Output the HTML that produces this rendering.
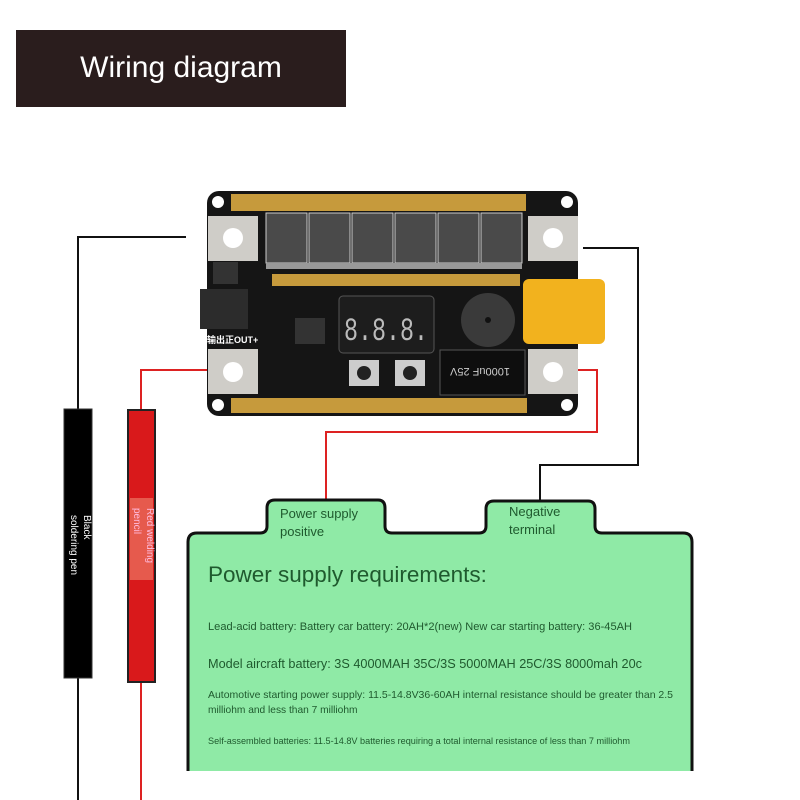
<!DOCTYPE html>
<html><head><meta charset="utf-8"><style>
html,body{margin:0;padding:0;background:#fff;}
svg{display:block;font-family:"Liberation Sans","Noto Sans CJK SC",sans-serif;}
</style></head><body>
<svg width="800" height="800" viewBox="0 0 800 800" xmlns="http://www.w3.org/2000/svg">
<rect width="800" height="800" fill="#fff"/>
<rect x="16" y="30" width="330" height="77" fill="#2a1d1d"/>
<text x="181" y="77" fill="#fff" font-size="30" text-anchor="middle">Wiring diagram</text>

<polyline points="186,237 78,237 78,800" fill="none" stroke="#111" stroke-width="2"/>
<polyline points="231,370 141,370 141,800" fill="none" stroke="#d22" stroke-width="2"/>
<polyline points="583,248 638,248 638,465 540,465 540,502" fill="none" stroke="#111" stroke-width="2"/>
<polyline points="563,370 597,370 597,432 326,432 326,500" fill="none" stroke="#d22" stroke-width="2"/>

<rect x="64" y="409" width="28" height="269" fill="#000" stroke="#333" stroke-width="1"/>
<text transform="translate(84,515) rotate(90)" fill="#fff" font-size="10">Black</text>
<text transform="translate(71,515) rotate(90)" fill="#fff" font-size="10">soldering pen</text>
<rect x="128" y="410" width="27" height="272" fill="#d9191b" stroke="#222" stroke-width="2"/>
<rect x="130" y="498" width="23" height="82" fill="#e86a5a" opacity="0.8"/>
<text transform="translate(147,508) rotate(90)" fill="#fbd" font-size="10">Red welding</text>
<text transform="translate(134,508) rotate(90)" fill="#fbd" font-size="10">pencil</text>

<rect x="207" y="191" width="371" height="225" rx="12" fill="#151515"/>
<circle cx="218" cy="202" r="6" fill="#fff"/><circle cx="567" cy="202" r="6" fill="#fff"/>
<circle cx="218" cy="405" r="6" fill="#fff"/><circle cx="567" cy="405" r="6" fill="#fff"/>
<rect x="231" y="194" width="295" height="17" fill="#c69a3c"/>
<rect x="231" y="398" width="296" height="15" fill="#c69a3c"/>
<rect x="272" y="274" width="248" height="12" fill="#c69a3c"/>
<rect x="208" y="216" width="50" height="45" fill="#cfcdc8"/><circle cx="233" cy="238" r="10" fill="#fff"/>
<rect x="528" y="216" width="50" height="45" fill="#cfcdc8"/><circle cx="553" cy="238" r="10" fill="#fff"/>
<rect x="208" y="349" width="50" height="45" fill="#cfcdc8"/><circle cx="233" cy="372" r="10" fill="#fff"/>
<rect x="528" y="349" width="50" height="45" fill="#cfcdc8"/><circle cx="553" cy="372" r="10" fill="#fff"/>
<g fill="#4a4a4a" stroke="#ccc" stroke-width="1">
<rect x="266" y="213" width="41" height="50"/><rect x="309" y="213" width="41" height="50"/>
<rect x="352" y="213" width="41" height="50"/><rect x="395" y="213" width="41" height="50"/>
<rect x="438" y="213" width="41" height="50"/><rect x="481" y="213" width="41" height="50"/>
</g>
<rect x="266" y="263" width="256" height="6" fill="#999"/>
<rect x="200" y="289" width="48" height="40" fill="#2c2c2c"/>
<rect x="213" y="262" width="25" height="22" fill="#333"/>
<rect x="339" y="296" width="95" height="57" rx="4" fill="#1d1d1d" stroke="#555"/>
<text x="344" y="340" fill="#bbb" font-size="32" textLength="84" lengthAdjust="spacingAndGlyphs" font-family="Liberation Mono,monospace">8.8.8.</text>
<circle cx="488" cy="320" r="27" fill="#3a3a3a"/>
<circle cx="488" cy="320" r="3" fill="#111"/>
<rect x="523" y="279" width="82" height="65" rx="6" fill="#f2b21e"/>
<rect x="440" y="350" width="85" height="45" fill="#0e0e0e" stroke="#555"/>
<text x="480" y="376" fill="#ccc" font-size="11" transform="rotate(180 480 372)" text-anchor="middle">1000uF 25V</text>
<rect x="349" y="360" width="30" height="26" fill="#ccc"/><circle cx="364" cy="373" r="7" fill="#222"/>
<rect x="395" y="360" width="30" height="26" fill="#ccc"/><circle cx="410" cy="373" r="7" fill="#222"/>
<rect x="295" y="318" width="30" height="26" fill="#333"/>
<text x="207" y="343" fill="#fff" font-size="9" font-weight="bold">输出正OUT+</text>

<path d="M188,800 L188,542 Q188,533 197,533 L260,533 Q267,533 267,526 L267,508 Q267,500 275,500 L378,500 Q385,500 385,508 L385,526 Q385,533 392,533 L479,533 Q486,533 486,526 L486,509 Q486,501 494,501 L588,501 Q595,501 595,509 L595,526 Q595,533 602,533 L683,533 Q692,533 692,542 L692,800 Z" fill="#8feaa6" stroke="#111" stroke-width="3"/>
<rect x="186" y="771" width="510" height="29" fill="#fff"/>
<g fill="#1f5a2e">
<text x="280" y="518" font-size="13">Power supply</text>
<text x="280" y="536" font-size="13">positive</text>
<text x="509" y="516" font-size="13">Negative</text>
<text x="509" y="534" font-size="13">terminal</text>
<text x="208" y="582" font-size="22.5">Power supply requirements:</text>
<text x="208" y="630" font-size="11" textLength="424" lengthAdjust="spacingAndGlyphs">Lead-acid battery: Battery car battery: 20AH*2(new) New car starting battery: 36-45AH</text>
<text x="208" y="668" font-size="13" textLength="434" lengthAdjust="spacingAndGlyphs">Model aircraft battery: 3S 4000MAH 35C/3S 5000MAH 25C/3S 8000mah 20c</text>
<text x="208" y="698" font-size="10.2" textLength="465" lengthAdjust="spacingAndGlyphs">Automotive starting power supply: 11.5-14.8V36-60AH internal resistance should be greater than 2.5</text>
<text x="208" y="713" font-size="10.2">milliohm and less than 7 milliohm</text>
<text x="208" y="744" font-size="9" textLength="422" lengthAdjust="spacingAndGlyphs">Self-assembled batteries: 11.5-14.8V batteries requiring a total internal resistance of less than 7 milliohm</text>
</g>
</svg>
</body></html>
